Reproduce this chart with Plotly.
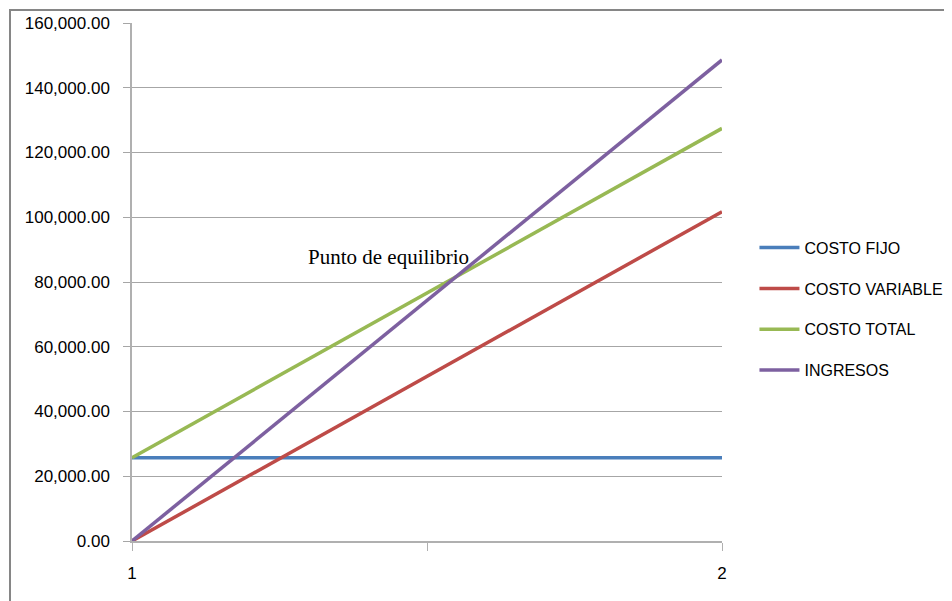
import plotly.graph_objects as go

# Data
periods = [1, 2]
period_labels = ["1", "2"]
costo_fijo = [25750, 25750]
costo_variable = [0, 101700]
costo_total = [25750, 127450]
ingresos = [0, 148600]
series_names = ["COSTO FIJO", "COSTO VARIABLE", "COSTO TOTAL", "INGRESOS"]
y_ticks = [0, 20000, 40000, 60000, 80000, 100000, 120000, 140000, 160000]

colors = ["#4A7EBB", "#BE4B48", "#98B954", "#7D60A0"]
series = [costo_fijo, costo_variable, costo_total, ingresos]

fig = go.Figure()
for i, (name, vals) in enumerate(zip(series_names, series)):
    fig.add_trace(go.Scatter(
        x=periods, y=vals, mode="lines", name=name,
        legendgroup=name,
        line=dict(color=colors[i], width=3.5),
    ))

fig.add_annotation(
    x=1.434, y=87800, xref="x", yref="y",
    text="Punto de equilibrio", showarrow=False,
    font=dict(family="Liberation Serif, Times New Roman, serif", size=21, color="#000000"),
)

# outer chart border
fig.add_shape(type="rect", xref="paper", yref="paper",
              x0=(10 - 132) / 590, x1=2.0, y0=-0.5, y1=(541 - 10) / 518,
              line=dict(color="#868686", width=2), fillcolor="rgba(0,0,0,0)", layer="below")

fig.update_layout(
    width=944, height=593,
    margin=dict(l=124, r=230, t=15, b=60, autoexpand=False),
    paper_bgcolor="white", plot_bgcolor="white",
    font=dict(family="Liberation Sans, Arial, sans-serif", color="#000000"),
    showlegend=True,
    legend=dict(
        x=1.055, y=0.599, xanchor="left", yanchor="top",
        font=dict(size=16, family="Liberation Sans, Arial, sans-serif"),
        tracegroupgap=17, itemwidth=40,
        bgcolor="rgba(0,0,0,0)",
    ),
    xaxis=dict(
        range=[1, 2], tickvals=[1, 1.5, 2], ticktext=[period_labels[0], "", period_labels[1]],
        showgrid=False, zeroline=False, automargin=False,
        showline=True, linecolor="#B0B0B0", linewidth=1.5,
        ticks="outside", ticklen=8, tickcolor="#B0B0B0",
        tickfont=dict(size=17),
        ticklabelstandoff=8,
    ),
    yaxis=dict(
        range=[0, 160000], tickvals=y_ticks, tickformat=",.2f",
        showgrid=True, gridcolor="#A6A6A6", gridwidth=1,
        zeroline=False, automargin=False,
        showline=True, linecolor="#B0B0B0", linewidth=1.5,
        ticks="outside", ticklen=7, tickcolor="#A6A6A6",
        tickfont=dict(size=17),
        ticklabelstandoff=10,
    ),
)

fig.write_html("out.html")
